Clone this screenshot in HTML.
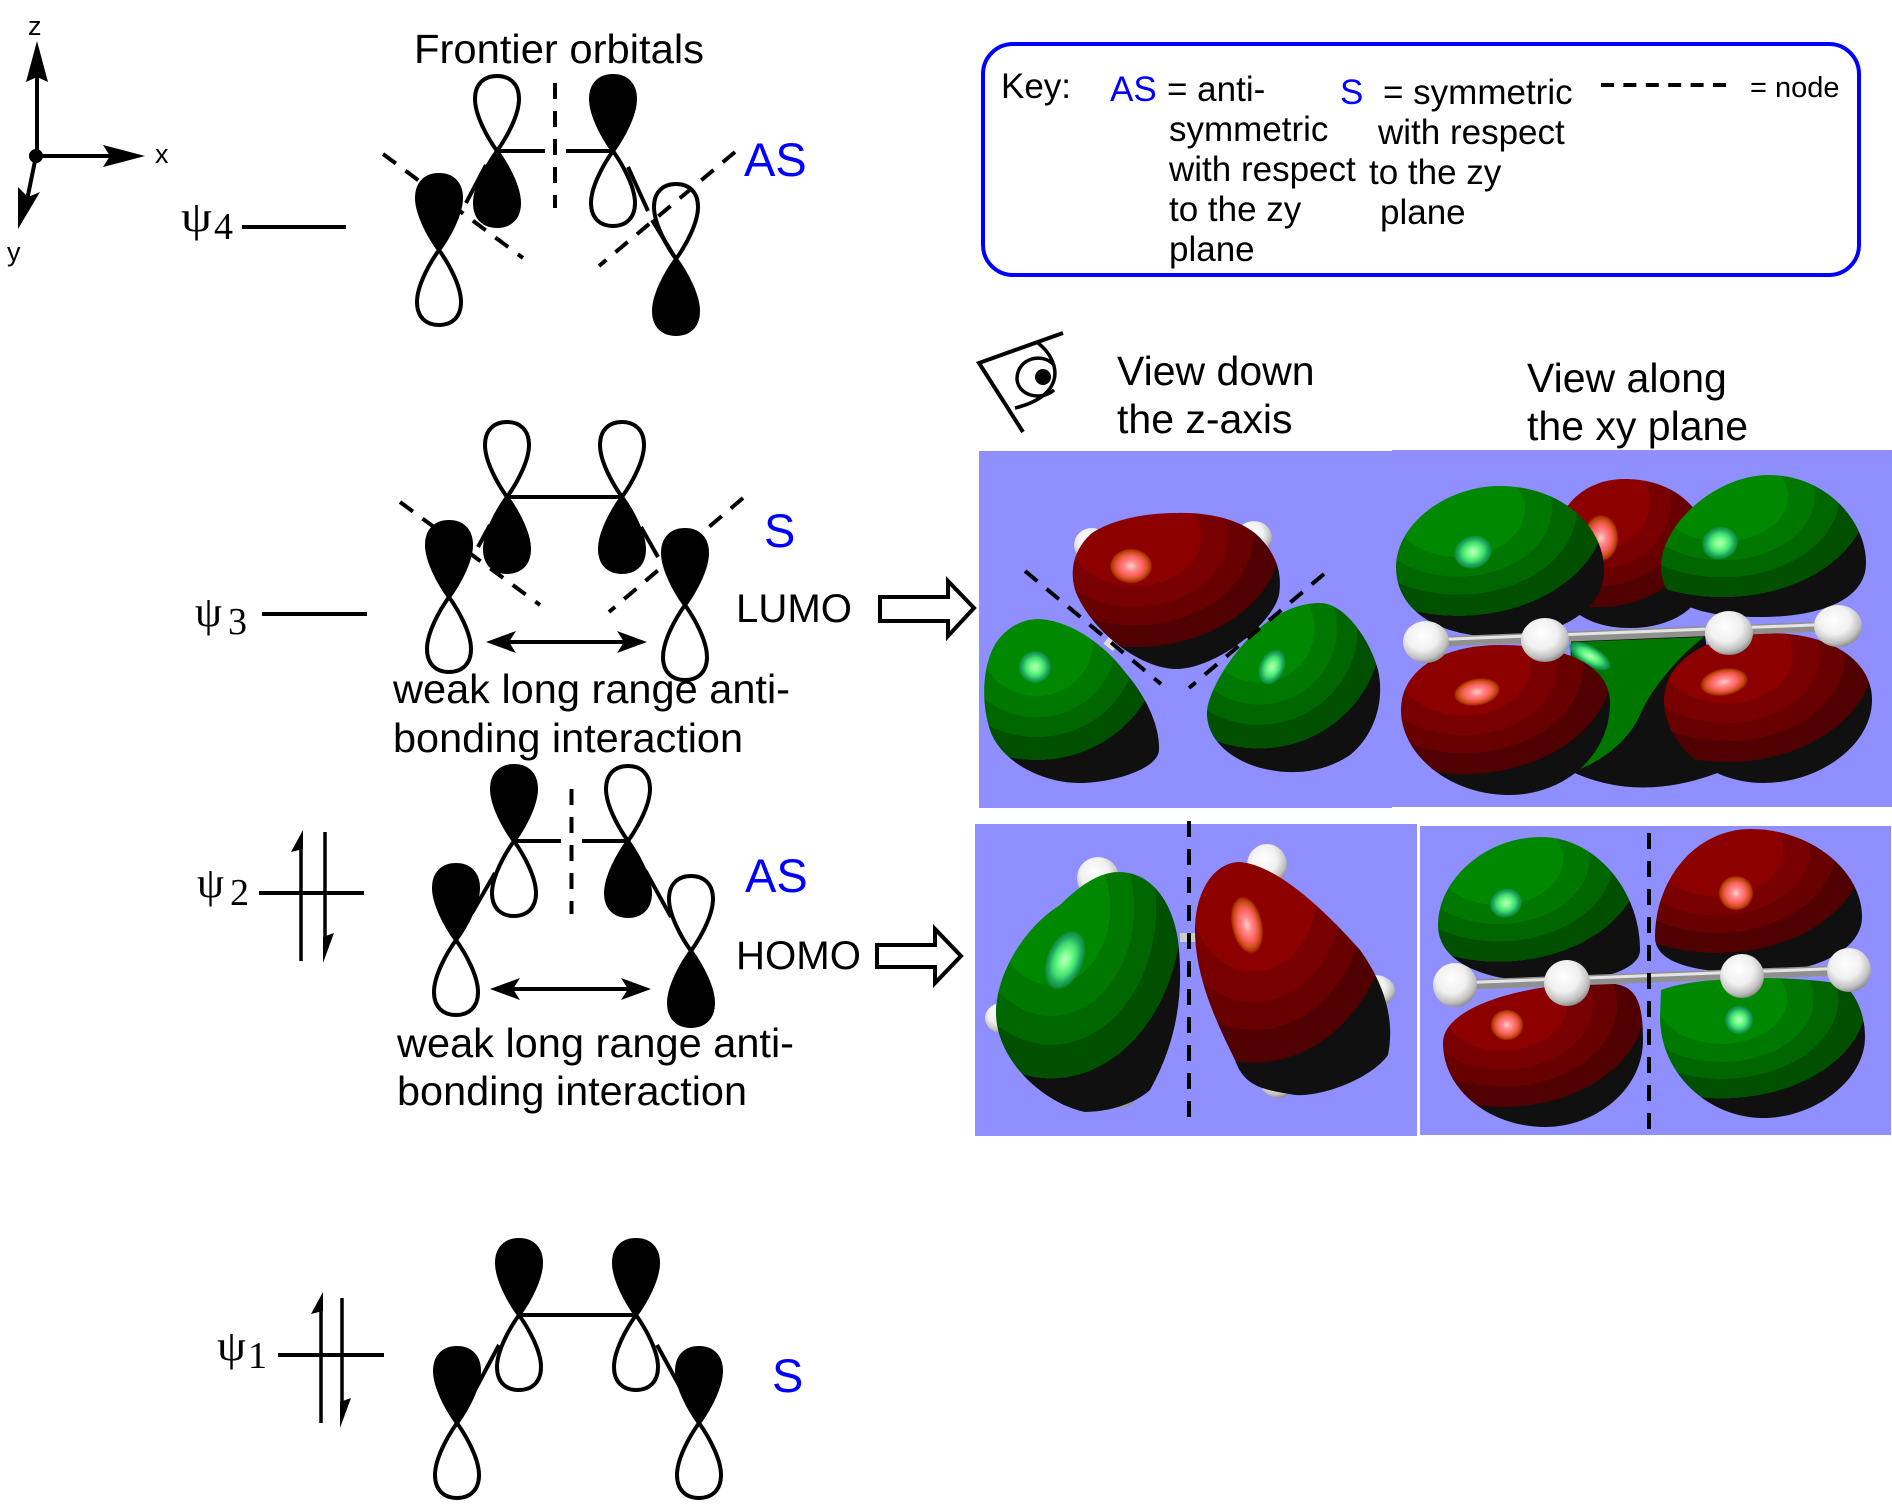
<!DOCTYPE html>
<html><head><meta charset="utf-8"><style>html,body{margin:0;padding:0;background:#fff}svg{display:block}
text{font-family:"Liberation Sans",sans-serif;fill:#000}
.s{font-family:"Liberation Serif",serif}
.b{fill:#00f}
.k{font-size:35px}
.t{font-size:41px}
.d{stroke:#000;stroke-width:4;stroke-dasharray:16 12;fill:none}
.l{stroke:#000;stroke-width:4;fill:none}
</style></head><body>
<svg width="1892" height="1511" viewBox="0 0 1892 1511" xmlns="http://www.w3.org/2000/svg">
<defs>
<path id="L" d="M0,0 C-10,-14 -22,-36 -22,-52 C-22,-67 -13,-75 0,-75 C13,-75 22,-67 22,-52 C22,-36 10,-14 0,0 Z" stroke="#000" stroke-width="4"/>
<radialGradient id="gg" cx=".3" cy=".15" r="1">
<stop offset="0" stop-color="#008800"/><stop offset=".32" stop-color="#008800"/><stop offset=".32" stop-color="#007800"/><stop offset=".45" stop-color="#007800"/><stop offset=".45" stop-color="#006600"/><stop offset=".57" stop-color="#006600"/><stop offset=".57" stop-color="#005000"/><stop offset=".71" stop-color="#005000"/><stop offset=".71" stop-color="#101010"/><stop offset="1" stop-color="#101010"/>
</radialGradient>
<radialGradient id="rg" cx=".3" cy=".15" r="1">
<stop offset="0" stop-color="#8c0000"/><stop offset=".32" stop-color="#8c0000"/><stop offset=".32" stop-color="#780000"/><stop offset=".45" stop-color="#780000"/><stop offset=".45" stop-color="#680000"/><stop offset=".57" stop-color="#680000"/><stop offset=".57" stop-color="#500000"/><stop offset=".71" stop-color="#500000"/><stop offset=".71" stop-color="#101010"/><stop offset="1" stop-color="#101010"/>
</radialGradient>
<radialGradient id="gh"><stop offset="0" stop-color="#c0ffc0"/><stop offset=".25" stop-color="#80ff90"/><stop offset=".55" stop-color="#40e070"/><stop offset=".75" stop-color="#20a860"/><stop offset=".9" stop-color="#109040"/><stop offset="1" stop-color="#008800" stop-opacity="0"/></radialGradient>
<radialGradient id="rh"><stop offset="0" stop-color="#ffd0d0"/><stop offset=".25" stop-color="#ff9090"/><stop offset=".55" stop-color="#ff6060"/><stop offset=".75" stop-color="#d05020"/><stop offset=".9" stop-color="#a83000"/><stop offset="1" stop-color="#8c0000" stop-opacity="0"/></radialGradient>
<radialGradient id="w" cx=".42" cy=".36" r=".68"><stop offset="0" stop-color="#ffffff"/><stop offset=".5" stop-color="#f0f0f0"/><stop offset=".8" stop-color="#c0c0c0"/><stop offset="1" stop-color="#808080"/></radialGradient>
</defs>

<!-- axes -->
<g>
<line class="l" x1="37" y1="156" x2="37" y2="75"/>
<polygon points="37,41 48,82 37,77 26,82"/>
<line class="l" x1="36" y1="156" x2="110" y2="156" stroke-width="5"/>
<polygon points="145,156 103,145 110,156 103,167"/>
<line class="l" x1="36" y1="156" x2="26" y2="205"/>
<polygon points="18,229 18,187 28,197 40,192"/>
<ellipse cx="36" cy="156" rx="7" ry="7"/>
<text x="28" y="35" font-size="27">z</text>
<text x="155" y="163" font-size="27">x</text>
<text x="7" y="261" font-size="27">y</text>
</g>
<text x="414" y="63" class="t" textLength="290" lengthAdjust="spacingAndGlyphs">Frontier orbitals</text>

<!-- psi 4 -->
<text class="s" x="181" y="231" font-size="43" textLength="31" lengthAdjust="spacingAndGlyphs">ψ</text>
<text class="s" x="214" y="239" font-size="38">4</text>
<line class="l" x1="242" y1="227" x2="346" y2="227"/>
<line class="l" x1="497" y1="151" x2="545" y2="151"/>
<line class="l" x1="566" y1="151" x2="613" y2="151"/>
<line class="l" x1="466" y1="203" x2="486" y2="165"/>
<line class="l" x1="628" y1="167" x2="648" y2="211"/>
<line class="d" x1="555" y1="83" x2="555" y2="208" stroke-dasharray="14 10"/>
<use href="#L" transform="translate(497,151)" fill="#fff"/>
<use href="#L" transform="translate(497,151) rotate(180)" fill="#000"/>
<use href="#L" transform="translate(613,151)" fill="#000"/>
<use href="#L" transform="translate(613,151) rotate(180)" fill="#fff"/>
<use href="#L" transform="translate(439,250)" fill="#000"/>
<use href="#L" transform="translate(439,250) rotate(180)" fill="#fff"/>
<use href="#L" transform="translate(676,259)" fill="none"/>
<use href="#L" transform="translate(676,259) rotate(180)" fill="#000"/>
<line class="d" x1="383" y1="154" x2="523" y2="258"/>
<line class="d" x1="735" y1="152" x2="599" y2="266"/>
<line class="l" x1="652" y1="220" x2="676" y2="259"/>
<text class="b" x="744" y="176" font-size="47">AS</text>

<!-- key box -->
<rect x="983" y="44" width="876" height="231" rx="30" ry="30" fill="none" stroke="#00f" stroke-width="4"/>
<text class="k" x="1001" y="98">Key:</text>
<text class="k b" x="1110" y="101">AS</text>
<text class="k" x="1167" y="101">= anti-</text>
<text class="k" x="1169" y="141">symmetric</text>
<text class="k" x="1169" y="181">with respect</text>
<text class="k" x="1169" y="221">to the zy</text>
<text class="k" x="1169" y="261">plane</text>
<text class="k b" x="1340" y="104">S</text>
<text class="k" x="1383" y="104">= symmetric</text>
<text class="k" x="1378" y="144">with respect</text>
<text class="k" x="1369" y="184">to the zy</text>
<text class="k" x="1380" y="224">plane</text>
<line x1="1601" y1="85" x2="1727" y2="85" stroke="#000" stroke-width="4" stroke-dasharray="13 9.4"/>
<text x="1750" y="97" font-size="29">= node</text>

<!-- eye -->
<g fill="none" stroke="#000">
<path d="M1063,333 L979,363 L1023,432" stroke-width="4"/>
<path d="M1038,343 C1060,360 1068,395 1015,408" stroke-width="3.5"/>
<path d="M1054,365 C1042,352 1018,358 1017,378 C1017,395 1040,402 1054,390" stroke-width="3.5"/>
</g>
<circle cx="1043" cy="377" r="8"/>
<text class="t" x="1117" y="385">View down</text>
<text class="t" x="1117" y="433">the z-axis</text>
<text class="t" x="1527" y="392">View along</text>
<text class="t" x="1527" y="440">the xy plane</text>

<!-- panels -->
<rect x="979" y="451" width="413" height="357" fill="#8f8fff"/>
<rect x="1392" y="450" width="500" height="357" fill="#8f8fff"/>
<rect x="975" y="824" width="442" height="312" fill="#8f8fff"/>
<rect x="1420" y="826" width="471" height="309" fill="#8f8fff"/>

<!-- panel A -->
<ellipse cx="1092" cy="545" rx="18" ry="17" fill="url(#w)"/>
<ellipse cx="1254" cy="538" rx="18" ry="17" fill="url(#w)"/>
<rect x="1104" y="640" width="12" height="8" fill="#ddd" transform="rotate(40 1110 645)"/>
<rect x="1246" y="628" width="12" height="8" fill="#ddd" transform="rotate(-40 1252 632)"/>
<path d="M1176,513 C1210,512 1245,520 1262,540 C1278,558 1282,575 1279,595 C1272,625 1215,669 1176,669 C1140,669 1090,630 1075,590 C1068,565 1078,545 1092,533 C1115,518 1150,513 1176,513Z" fill="url(#rg)"/>
<ellipse cx="1131" cy="566" rx="22" ry="18" fill="url(#rh)"/>
<path d="M1038,619 C1070,620 1105,645 1125,672 C1145,695 1160,725 1159,750 C1158,770 1110,783 1080,783 C1040,783 1000,760 990,730 C980,700 983,660 998,640 C1010,625 1025,619 1038,619Z" fill="url(#gg)"/>
<ellipse cx="1035" cy="667" rx="17" ry="17" fill="url(#gh)"/>
<path d="M1320,603 C1345,603 1370,640 1378,670 C1385,700 1375,735 1350,755 C1325,772 1295,775 1270,770 C1240,765 1208,745 1207,715 C1206,690 1240,640 1270,620 C1290,607 1305,603 1320,603Z" fill="url(#gg)"/>
<ellipse cx="1272" cy="667" rx="13" ry="19" fill="url(#gh)" transform="rotate(25 1272 667)"/>
<line class="d" x1="1025" y1="571" x2="1161" y2="684" stroke-dasharray="15 11"/>
<line class="d" x1="1324" y1="574" x2="1189" y2="688" stroke-dasharray="15 11"/>

<!-- panel B -->
<path d="M1625,479 C1670,479 1706,505 1710,550 C1715,600 1680,628 1630,628 C1580,628 1548,600 1552,550 C1556,505 1585,479 1625,479Z" fill="url(#rg)"/>
<ellipse cx="1601" cy="538" rx="18" ry="24" fill="url(#rh)"/>
<path d="M1571,640 L1705,636 L1725,770 Q1640,805 1568,770Z" fill="#101010"/>
<path d="M1571,642 L1704,637 C1680,655 1650,690 1640,715 C1628,742 1600,762 1577,770Z" fill="#007800"/>
<ellipse cx="1590" cy="656" rx="24" ry="10" fill="url(#gh)" transform="rotate(30 1590 656)"/>
<path d="M1500,486 C1560,486 1604,525 1604,570 C1604,610 1560,637 1500,637 C1440,637 1396,612 1396,567 C1396,525 1445,486 1500,486Z" fill="url(#gg)"/>
<ellipse cx="1473" cy="552" rx="20" ry="17" fill="url(#gh)" transform="rotate(-20 1473 552)"/>
<path d="M1769,475 C1825,475 1866,520 1866,563 C1866,600 1820,617 1760,617 C1700,617 1661,605 1661,567 C1661,525 1715,475 1769,475Z" fill="url(#gg)"/>
<ellipse cx="1720" cy="543" rx="19" ry="17" fill="url(#gh)" transform="rotate(-20 1720 543)"/>
<path d="M1500,645 C1565,645 1610,665 1610,703 C1610,755 1565,795 1509,795 C1450,795 1401,755 1401,710 C1401,668 1445,645 1500,645Z" fill="url(#rg)"/>
<ellipse cx="1477" cy="692" rx="24" ry="14" fill="url(#rh)" transform="rotate(-10 1477 692)"/>
<path d="M1769,633 C1830,633 1872,660 1872,700 C1872,745 1820,783 1763,783 C1710,783 1664,745 1664,700 C1664,660 1710,633 1769,633Z" fill="url(#rg)"/>
<ellipse cx="1724" cy="682" rx="25" ry="14" fill="url(#rh)" transform="rotate(-10 1724 682)"/>
<line x1="1426" y1="642" x2="1838" y2="626" stroke="#909090" stroke-width="10"/>
<line x1="1426" y1="640" x2="1838" y2="624" stroke="#e4e4e4" stroke-width="3"/>
<ellipse cx="1426" cy="642" rx="23" ry="21" fill="url(#w)"/>
<ellipse cx="1545" cy="640" rx="24" ry="22" fill="url(#w)"/>
<ellipse cx="1729" cy="633" rx="24" ry="22" fill="url(#w)"/>
<ellipse cx="1838" cy="626" rx="24" ry="21" fill="url(#w)"/>

<!-- panel C -->
<ellipse cx="1098" cy="878" rx="21" ry="21" fill="url(#w)"/>
<ellipse cx="1267" cy="865" rx="20" ry="21" fill="url(#w)"/>
<ellipse cx="1005" cy="1018" rx="20" ry="16" fill="url(#w)"/>
<ellipse cx="1375" cy="991" rx="20" ry="16" fill="url(#w)"/>
<ellipse cx="1120" cy="1090" rx="18" ry="18" fill="url(#w)"/>
<ellipse cx="1278" cy="1080" rx="18" ry="18" fill="url(#w)"/>
<rect x="1180" y="933" width="16" height="9" fill="#ccc"/>
<path d="M1119,872 C1150,872 1172,900 1178,940 C1184,990 1178,1040 1150,1090 C1130,1108 1100,1112 1085,1112 C1050,1105 1005,1070 997,1025 C990,985 1020,930 1060,905 C1080,885 1100,872 1119,872Z" fill="url(#gg)"/>
<ellipse cx="1065" cy="960" rx="19" ry="32" fill="url(#gh)" transform="rotate(22 1065 960)"/>
<path d="M1240,862 C1275,865 1320,905 1360,950 C1385,985 1395,1020 1388,1055 C1370,1080 1320,1097 1295,1095 C1270,1090 1245,1090 1235,1060 C1215,1020 1195,975 1195,930 C1195,890 1215,862 1240,862Z" fill="url(#rg)"/>
<ellipse cx="1247" cy="925" rx="16" ry="30" fill="url(#rh)" transform="rotate(-12 1247 925)"/>
<line class="d" x1="1189" y1="821" x2="1189" y2="1123" stroke-dasharray="14 10"/>

<!-- panel D -->
<path d="M1541,837 C1595,837 1640,890 1640,950 C1640,970 1600,982 1548,982 C1490,982 1438,965 1438,925 C1438,880 1485,837 1541,837Z" fill="url(#gg)"/>
<ellipse cx="1506" cy="903" rx="17" ry="15" fill="url(#gh)" transform="rotate(-20 1506 903)"/>
<path d="M1751,829 C1810,829 1862,870 1862,917 C1862,950 1815,973 1757,973 C1700,973 1655,965 1655,937 C1655,880 1695,829 1751,829Z" fill="url(#rg)"/>
<ellipse cx="1736" cy="893" rx="18" ry="18" fill="url(#rh)"/>
<path d="M1600,983 C1630,983 1643,990 1643,1040 C1643,1090 1595,1127 1545,1127 C1490,1127 1443,1090 1443,1043 C1443,1005 1530,983 1600,983Z" fill="url(#rg)"/>
<ellipse cx="1507" cy="1025" rx="17" ry="16" fill="url(#rh)"/>
<path d="M1661,990 C1700,975 1800,975 1845,985 C1860,1000 1865,1020 1865,1037 C1865,1080 1815,1118 1763,1118 C1710,1118 1660,1075 1660,1017Z" fill="url(#gg)"/>
<ellipse cx="1739" cy="1020" rx="15" ry="15" fill="url(#gh)"/>
<line x1="1455" y1="985" x2="1849" y2="970" stroke="#909090" stroke-width="10"/>
<line x1="1455" y1="983" x2="1849" y2="968" stroke="#e4e4e4" stroke-width="3"/>
<ellipse cx="1455" cy="985" rx="22" ry="22" fill="url(#w)"/>
<ellipse cx="1567" cy="983" rx="23" ry="23" fill="url(#w)"/>
<ellipse cx="1742" cy="976" rx="22" ry="22" fill="url(#w)"/>
<ellipse cx="1849" cy="970" rx="22" ry="22" fill="url(#w)"/>
<line class="d" x1="1649" y1="833" x2="1649" y2="1135" stroke-dasharray="14 10"/>

<!-- psi 3 -->
<text class="s" x="195" y="626" font-size="43" textLength="27" lengthAdjust="spacingAndGlyphs">ψ</text>
<text class="s" x="228" y="634" font-size="38">3</text>
<line class="l" x1="262" y1="614" x2="367" y2="614"/>
<line class="l" x1="507" y1="497" x2="622" y2="497"/>
<line class="l" x1="478" y1="547" x2="490" y2="525"/>
<line class="l" x1="641" y1="527" x2="658" y2="557"/>
<line class="d" x1="400" y1="502" x2="540" y2="605"/>
<line class="d" x1="743" y1="498" x2="609" y2="612"/>
<use href="#L" transform="translate(507,497)" fill="#fff"/>
<use href="#L" transform="translate(507,497) rotate(180)" fill="#000"/>
<use href="#L" transform="translate(622,497)" fill="#fff"/>
<use href="#L" transform="translate(622,497) rotate(180)" fill="#000"/>
<use href="#L" transform="translate(449,597)" fill="#000"/>
<use href="#L" transform="translate(449,597) rotate(180)" fill="#fff"/>
<use href="#L" transform="translate(685,605)" fill="#000"/>
<use href="#L" transform="translate(685,605) rotate(180)" fill="#fff"/>
<line class="l" x1="505" y1="642" x2="630" y2="642"/>
<polygon points="486,642 516,631 509,642 516,653"/>
<polygon points="647,642 617,631 624,642 617,653"/>
<text class="b" x="764" y="547" font-size="47">S</text>
<text x="736" y="622" font-size="40" textLength="116" lengthAdjust="spacingAndGlyphs">LUMO</text>
<path d="M880,597 H948 V581 L974,608 L948,636 V621 H880Z" fill="#fff" stroke="#000" stroke-width="4"/>
<text x="393" y="703" font-size="41" textLength="397" lengthAdjust="spacingAndGlyphs">weak long range anti-</text>
<text x="393" y="752" font-size="41" textLength="350" lengthAdjust="spacingAndGlyphs">bonding interaction</text>

<!-- psi 2 -->
<text class="s" x="197" y="897" font-size="43" textLength="27" lengthAdjust="spacingAndGlyphs">ψ</text>
<text class="s" x="230" y="905" font-size="38">2</text>
<line class="l" x1="259" y1="893" x2="364" y2="893"/>
<line x1="301" y1="845" x2="301" y2="961" stroke="#000" stroke-width="3.5"/>
<polygon points="303,830 291,852 303,849"/>
<line x1="325" y1="832" x2="325" y2="945" stroke="#000" stroke-width="3.5"/>
<polygon points="323,963 334,933 323,937"/>
<line class="l" x1="516" y1="841" x2="561" y2="841"/>
<line class="l" x1="582" y1="841" x2="628" y2="841"/>
<line class="d" x1="571.500" y1="789" x2="571.500" y2="914" stroke-dasharray="14 10"/>
<use href="#L" transform="translate(514,841)" fill="#000"/>
<use href="#L" transform="translate(514,841) rotate(180)" fill="#fff"/>
<use href="#L" transform="translate(628,841)" fill="#fff"/>
<use href="#L" transform="translate(628,841) rotate(180)" fill="#000"/>
<use href="#L" transform="translate(456,940)" fill="#000"/>
<use href="#L" transform="translate(456,940) rotate(180)" fill="#fff"/>
<use href="#L" transform="translate(691,951)" fill="#fff"/>
<use href="#L" transform="translate(691,951) rotate(180)" fill="#000"/>
<line class="l" x1="645" y1="870" x2="671" y2="917"/>
<line class="l" x1="472" y1="913" x2="495" y2="873"/>
<line class="l" x1="509" y1="989" x2="635" y2="989"/>
<polygon points="490,989 520,978 513,989 520,1000"/>
<polygon points="651,989 621,978 628,989 621,1000"/>
<text class="b" x="745" y="892" font-size="47">AS</text>
<text x="736" y="969" font-size="40" textLength="125" lengthAdjust="spacingAndGlyphs">HOMO</text>
<path d="M877,945 H935 V929 L961,956 L935,983 V967 H877Z" fill="#fff" stroke="#000" stroke-width="4"/>
<text x="397" y="1057" font-size="41" textLength="397" lengthAdjust="spacingAndGlyphs">weak long range anti-</text>
<text x="397" y="1105" font-size="41" textLength="350" lengthAdjust="spacingAndGlyphs">bonding interaction</text>

<!-- psi 1 -->
<text class="s" x="217" y="1360" font-size="43" textLength="29" lengthAdjust="spacingAndGlyphs">ψ</text>
<text class="s" x="248" y="1368" font-size="38">1</text>
<line class="l" x1="278" y1="1355" x2="384" y2="1355"/>
<line x1="321" y1="1308" x2="321" y2="1423" stroke="#000" stroke-width="3.500"/>
<polygon points="323,1292 311,1314 323,1311"/>
<line x1="342" y1="1298" x2="342" y2="1410" stroke="#000" stroke-width="3.500"/>
<polygon points="340,1428 351,1398 340,1402"/>
<use href="#L" transform="translate(519,1315)" fill="#000"/>
<use href="#L" transform="translate(519,1315) rotate(180)" fill="#fff"/>
<use href="#L" transform="translate(636,1315)" fill="#000"/>
<use href="#L" transform="translate(636,1315) rotate(180)" fill="#fff"/>
<use href="#L" transform="translate(457,1423)" fill="#000"/>
<use href="#L" transform="translate(457,1423) rotate(180)" fill="#fff"/>
<use href="#L" transform="translate(699,1423)" fill="#000"/>
<use href="#L" transform="translate(699,1423) rotate(180)" fill="#fff"/>
<line class="l" x1="519" y1="1315" x2="636" y2="1315"/>
<line class="l" x1="475" y1="1390" x2="499" y2="1345"/>
<line class="l" x1="657" y1="1345" x2="680" y2="1387"/>
<text class="b" x="772" y="1392" font-size="47">S</text>
</svg>
</body></html>
